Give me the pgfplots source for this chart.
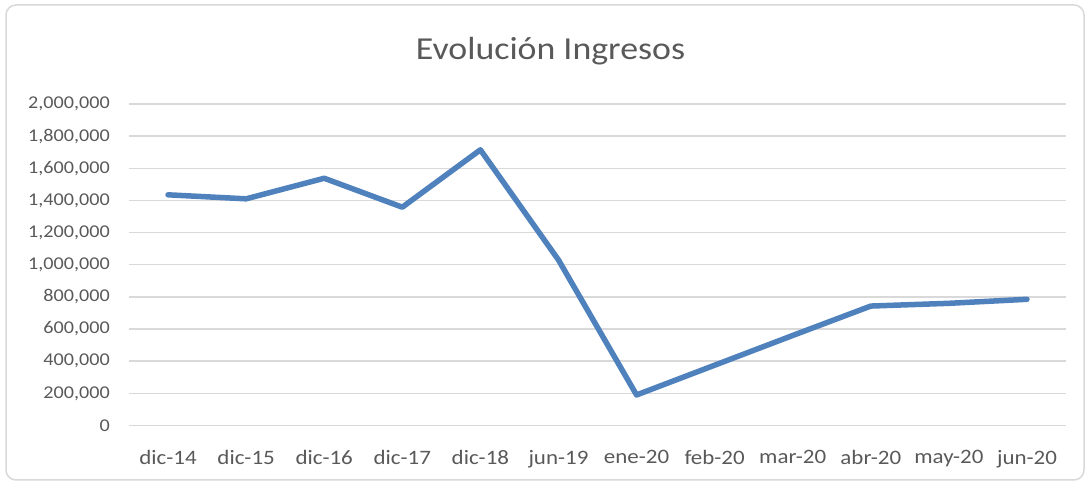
\documentclass[border=0pt]{standalone}
\usepackage{pgfplots}
\pgfplotsset{compat=1.18}
\usepackage{fontspec}
\setmainfont{Carlito}[FakeStretch=1.12]

\definecolor{serie}{HTML}{4F81BD}
\definecolor{rejilla}{HTML}{D9D9D9}
\definecolor{texto}{HTML}{595959}

\begin{document}
\begin{tikzpicture}[x=1bp,y=1bp]
\useasboundingbox (0,0) rectangle (1086,484);
% marco del grafico
\draw[rejilla, line width=1.5bp, rounded corners=10bp] (6,4) rectangle (1084,479);
\node[anchor=base, text=texto, font=\fontsize{32bp}{38bp}\selectfont, inner sep=0pt]
  at (550.5,424) {Evolución Ingresos};

\begin{axis}[
    at={(129bp,58.5bp)},
    anchor=south west,
    scale only axis,
    width=937bp,
    height=321.5bp,
    xmin=-0.5, xmax=11.5,
    ymin=0, ymax=2000000,
    xtick={0,...,11},
    xticklabels={dic-14,dic-15,dic-16,dic-17,dic-18,jun-19,ene-20,feb-20,mar-20,abr-20,may-20,jun-20},
    ytick={0,200000,...,2000000},
    scaled y ticks=false,
    /pgf/number format/.cd, fixed, 1000 sep={,}, assume math mode=true,
    /pgfplots/.cd,
    axis line style={draw=none},
    major tick style={draw=none},
    ymajorgrids=true,
    major grid style={rejilla, line width=1.5bp},
    tick label style={text=texto},
    yticklabel style={font=\fontsize{18bp}{21bp}\selectfont, inner sep=0pt, xshift=-19bp},
    xticklabel style={font=\fontsize{20.5bp}{24bp}\selectfont, inner sep=0pt, anchor=north, yshift=-25bp},
    clip=false,
]
\addplot[serie, line width=5.5bp, line join=round, line cap=round] coordinates {
    (0,1435000) (1,1410000) (2,1538000) (3,1358000) (4,1715000) (5,1030000)
    (6,190000) (7,375000) (8,560000) (9,743000) (10,760000) (11,785000)
};
\end{axis}
\end{tikzpicture}
\end{document}
